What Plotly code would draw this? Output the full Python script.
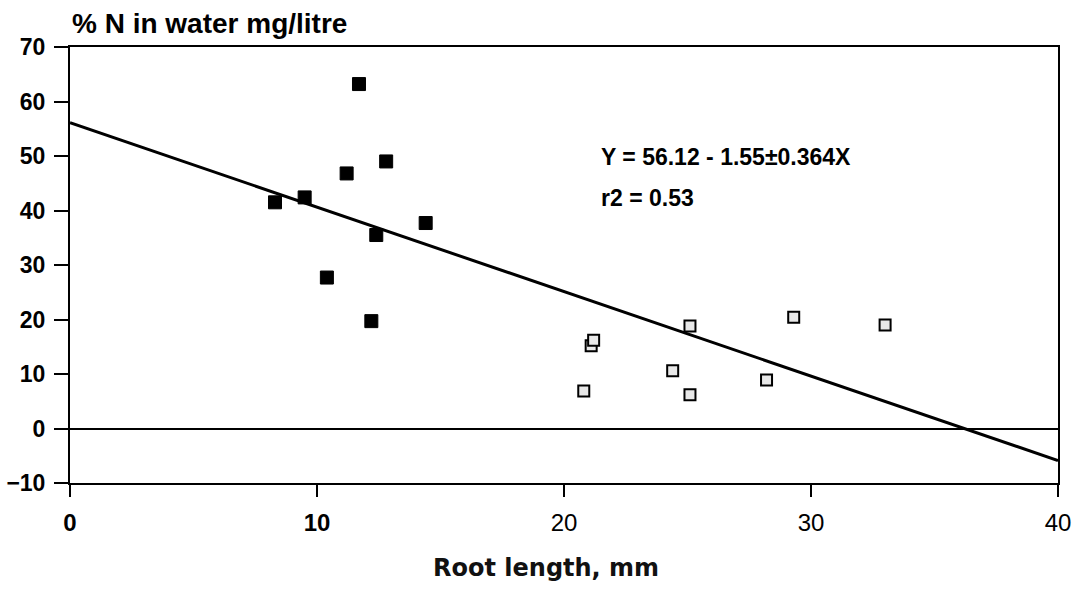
import plotly.graph_objects as go

# Filled squares (short root lengths)
filled_x = [8.3, 9.5, 10.4, 11.2, 11.7, 12.4, 12.8, 12.2, 14.4]
filled_y = [41.5, 42.4, 27.7, 46.8, 63.2, 35.5, 49.0, 19.7, 37.7]

# Open squares (long root lengths)
open_x = [20.8, 21.1, 21.2, 24.4, 25.1, 25.1, 28.2, 29.3, 33.0]
open_y = [6.9, 15.2, 16.2, 10.6, 18.8, 6.2, 8.9, 20.4, 19.0]

# Regression: Y = 56.12 - 1.55 X
intercept = 56.12
slope = -1.55
line_x = [0, 40]
line_y = [intercept + slope * v for v in line_x]

x_ticks = [0, 10, 20, 30, 40]
x_ticktext = ["<b>0</b>", "<b>10</b>", "20", "30", "40"]
y_ticks = [-10, 0, 10, 20, 30, 40, 50, 60, 70]

fig = go.Figure()
fig.add_trace(go.Scatter(x=line_x, y=line_y, mode="lines",
                         line=dict(color="black", width=3), showlegend=False))
fig.add_trace(go.Scatter(x=filled_x, y=filled_y, mode="markers",
                         marker=dict(symbol="square", size=13, color="black",
                                     line=dict(color="black", width=1)),
                         showlegend=False))
fig.add_trace(go.Scatter(x=open_x, y=open_y, mode="markers",
                         marker=dict(symbol="square", size=11, color="#e8e8e8",
                                     line=dict(color="black", width=2)),
                         showlegend=False))

fig.update_layout(
    width=1076, height=606,
    margin=dict(l=70, r=18, t=47, b=123),
    paper_bgcolor="white", plot_bgcolor="white",
    font=dict(family="Liberation Sans, Arial", color="black"),
    xaxis=dict(range=[0, 40], tickvals=x_ticks, ticktext=x_ticktext,
               automargin=False,
               showgrid=False, zeroline=False, showline=True, mirror=True,
               linecolor="black", linewidth=2, ticks="outside", ticklen=12,
               tickwidth=1.5, tickcolor="black", ticklabelstandoff=5,
               tickfont=dict(size=24, family="Liberation Sans, Arial", color="black")),
    yaxis=dict(range=[-10, 70], tickvals=y_ticks, automargin=False,
               showgrid=False, zeroline=True, zerolinecolor="black", zerolinewidth=1.5,
               showline=True, mirror=True,
               linecolor="black", linewidth=2, ticks="outside", ticklen=14,
               tickwidth=1.5, tickcolor="black", ticklabelstandoff=4,
               tickfont=dict(size=23, family="Liberation Sans, Arial", color="black",
                             weight="bold")),
    annotations=[
        dict(text="<b>% N in water mg/litre</b>", xref="paper", yref="paper",
             x=0.0, y=1.053, xanchor="left", yanchor="middle", showarrow=False,
             font=dict(size=28, family="Liberation Sans, Arial", color="black")),
        dict(text="<b>Y = 56.12 - 1.55±0.364X</b>", xref="paper", yref="paper",
             x=0.535, y=0.748, xanchor="left", yanchor="middle", showarrow=False,
             font=dict(size=23, family="Liberation Sans, Arial", color="black")),
        dict(text="<b>r2 = 0.53</b>", xref="paper", yref="paper",
             x=0.535, y=0.654, xanchor="left", yanchor="middle", showarrow=False,
             font=dict(size=23, family="Liberation Sans, Arial", color="black")),
        dict(text="<b>Root length, mm</b>", xref="paper", yref="paper",
             x=0.482, y=-0.195, xanchor="center", yanchor="middle", showarrow=False,
             font=dict(size=24, family="DejaVu Sans", color="#111111")),
    ],
)

fig.write_html("out.html")
